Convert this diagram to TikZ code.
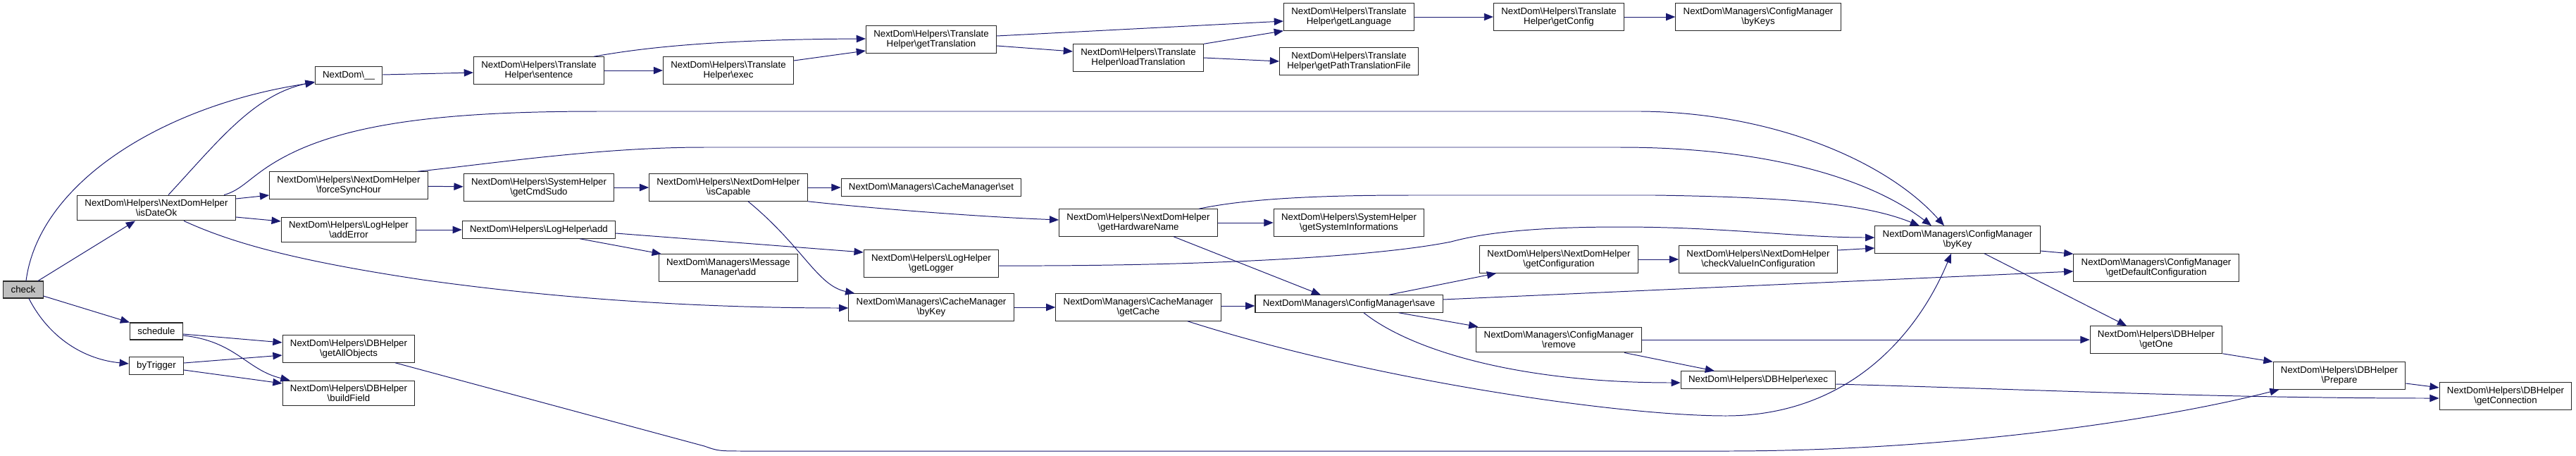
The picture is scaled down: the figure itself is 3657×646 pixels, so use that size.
\documentclass[tikz,border=0pt]{standalone}
\usepackage{fontspec}
\setmainfont{Liberation Sans}
\usepackage{tikz}
\usetikzlibrary{positioning, arrows.meta, calc}
\definecolor{midnight}{HTML}{191970}
\newcommand{\nsep}{\textbackslash}
\newcommand{\fnfont}{\fontsize{9.45}{10}\selectfont}

\begin{document}
\begin{tikzpicture}[
  x=0.025cm, y=-0.025cm,
  fn/.style={draw=black!85, fill=white, line width=0.75pt, font=\fnfont, align=center, inner xsep=0.27cm, inner ysep=0.15cm, minimum height=0.6cm},
  root/.style={fn, fill=gray!50},
  call/.style={draw=midnight, line width=0.7pt, -{Triangle[length=0.33cm, width=0.26cm]}},
]
  \useasboundingbox (0,0) rectangle (3657,646);

  \node[root] (check) at (33,411) {check};
  \node[fn] (isDateOk) at (222,295) {NextDom\nsep Helpers\nsep NextDomHelper\\\nsep isDateOk};
  \node[fn] (schedule) at (222,470) {schedule};
  \node[fn] (byTrigger) at (222,519) {byTrigger};
  \node[fn] (nd) at (495,107) {NextDom\nsep\_\_};
  \node[fn] (forceSyncHour) at (495,263) {NextDom\nsep Helpers\nsep NextDomHelper\\\nsep forceSyncHour};
  \node[fn] (addError) at (495,326) {NextDom\nsep Helpers\nsep LogHelper\\\nsep addError};
  \node[fn] (getAllObjects) at (495,495) {NextDom\nsep Helpers\nsep DBHelper\\\nsep getAllObjects};
  \node[fn] (buildField) at (495,558) {NextDom\nsep Helpers\nsep DBHelper\\\nsep buildField};
  \node[fn] (sentence) at (765,100) {NextDom\nsep Helpers\nsep Translate\\Helper\nsep sentence};
  \node[fn] (getCmdSudo) at (765,266) {NextDom\nsep Helpers\nsep SystemHelper\\\nsep getCmdSudo};
  \node[fn] (logAdd) at (765,326) {NextDom\nsep Helpers\nsep LogHelper\nsep add};
  \node[fn] (thExec) at (1034,100) {NextDom\nsep Helpers\nsep Translate\\Helper\nsep exec};
  \node[fn] (isCapable) at (1034,266) {NextDom\nsep Helpers\nsep NextDomHelper\\\nsep isCapable};
  \node[fn] (msgAdd) at (1034,380) {NextDom\nsep Managers\nsep Message\\Manager\nsep add};
  \node[fn] (getTranslation) at (1322,56) {NextDom\nsep Helpers\nsep Translate\\Helper\nsep getTranslation};
  \node[fn] (cacheSet) at (1322,266) {NextDom\nsep Managers\nsep CacheManager\nsep set};
  \node[fn] (getLogger) at (1322,374) {NextDom\nsep Helpers\nsep LogHelper\\\nsep getLogger};
  \node[fn] (cacheByKey) at (1322,436) {NextDom\nsep Managers\nsep CacheManager\\\nsep byKey};
  \node[fn] (loadTranslation) at (1616,82) {NextDom\nsep Helpers\nsep Translate\\Helper\nsep loadTranslation};
  \node[fn] (getHardwareName) at (1616,316) {NextDom\nsep Helpers\nsep NextDomHelper\\\nsep getHardwareName};
  \node[fn] (getCache) at (1616,436) {NextDom\nsep Managers\nsep CacheManager\\\nsep getCache};
  \node[fn] (getLanguage) at (1915,24) {NextDom\nsep Helpers\nsep Translate\\Helper\nsep getLanguage};
  \node[fn] (getPathTranslationFile) at (1915,87) {NextDom\nsep Helpers\nsep Translate\\Helper\nsep getPathTranslationFile};
  \node[fn] (getSystemInformations) at (1915,316) {NextDom\nsep Helpers\nsep SystemHelper\\\nsep getSystemInformations};
  \node[fn] (save) at (1915,431) {NextDom\nsep Managers\nsep ConfigManager\nsep save};
  \node[fn] (getConfig) at (2213,24) {NextDom\nsep Helpers\nsep Translate\\Helper\nsep getConfig};
  \node[fn] (getConfiguration) at (2213,368) {NextDom\nsep Helpers\nsep NextDomHelper\\\nsep getConfiguration};
  \node[fn] (remove) at (2213,482) {NextDom\nsep Managers\nsep ConfigManager\\\nsep remove};
  \node[fn] (byKeys) at (2496,24) {NextDom\nsep Managers\nsep ConfigManager\\\nsep byKeys};
  \node[fn] (checkValue) at (2496,368) {NextDom\nsep Helpers\nsep NextDomHelper\\\nsep checkValueInConfiguration};
  \node[fn] (dbExec) at (2496,539) {NextDom\nsep Helpers\nsep DBHelper\nsep exec};
  \node[fn] (cfgByKey) at (2779,340) {NextDom\nsep Managers\nsep ConfigManager\\\nsep byKey};
  \node[fn] (getDefaultConfiguration) at (3061,380) {NextDom\nsep Managers\nsep ConfigManager\\\nsep getDefaultConfiguration};
  \node[fn] (getOne) at (3061,482) {NextDom\nsep Helpers\nsep DBHelper\\\nsep getOne};
  \node[fn] (prepare) at (3321,533) {NextDom\nsep Helpers\nsep DBHelper\\\nsep Prepare};
  \node[fn] (getConnection) at (3557,562) {NextDom\nsep Helpers\nsep DBHelper\\\nsep getConnection};

  \draw[call] ($(check.north)+(4,0)$) .. controls (55,260) and (230,150) .. ($(nd.west)+(0,10)$);
  \draw[call] ($(check.north)+(21,0)$) -- ($(isDateOk.south)+(-30,0)$);
  \draw[call] ($(check.east)+(0,9)$) -- (schedule.north west);
  \draw[call] ($(check.south)+(8,0)$) .. controls (70,480) and (120,510) .. ($(byTrigger.west)+(0,-3)$);
  \draw[call] ($(isDateOk.north)+(17,0)$) .. controls (310,200) and (360,135) .. ($(nd.west)+(0,9)$);
  \draw[call] ($(isDateOk.north)+(96,0)$) .. controls (350,268) and (360,240) .. (430,210) .. controls (520,172) and (650,158) .. (850,158) -- (2330,158) .. controls (2520,160) and (2680,230) .. ($(cfgByKey.north)+(-19,0)$);
  \draw[call] ($(isDateOk.east)+(0,-13)$) -- ($(forceSyncHour.west)+(0,14)$);
  \draw[call] ($(isDateOk.east)+(0,13)$) -- ($(addError.west)+(0,-12)$);
  \draw[call] ($(isDateOk.south)+(39,0)$) .. controls (330,345) and (420,370) .. (600,397) .. controls (800,425) and (1000,437) .. ($(cacheByKey.west)+(0,1)$);
  \draw[call] ($(schedule.east)+(0,4)$) -- ($(getAllObjects.west)+(0,-9)$);
  \draw[call] ($(schedule.east)+(0,6)$) .. controls (335,484) and (350,525) .. ($(buildField.north west)+(11,0)$);
  \draw[call] ($(byTrigger.east)+(0,-4)$) -- ($(getAllObjects.west)+(0,9)$);
  \draw[call] ($(byTrigger.east)+(0,6)$) -- ($(buildField.west)+(0,-14)$);
  \draw[call] ($(getAllObjects.south)+(66,0)$) -- (1000,633) .. controls (1020,640) .. (1060,640) -- (2450,640) .. controls (2750,640) and (3050,600) .. ($(prepare.south west)+(9,0)$);
  \draw[call] ($(nd.east)+(0,-1)$) -- ($(sentence.west)+(0,3)$);
  \draw[call] ($(sentence.north)+(78,0)$) .. controls (900,70) and (1000,56) .. ($(getTranslation.west)+(0,-1)$);
  \draw[call] (sentence) -- (thExec);
  \draw[call] ($(thExec.east)+(0,-14)$) -- ($(getTranslation.west)+(0,16)$);
  \draw[call] ($(getTranslation.east)+(0,-5)$) -- ($(getLanguage.west)+(0,6)$);
  \draw[call] ($(getTranslation.east)+(0,9)$) -- ($(loadTranslation.west)+(0,-9)$);
  \draw[call] (loadTranslation.north east) -- (getLanguage.south west);
  \draw[call] (loadTranslation.east) -- (getPathTranslationFile.west);
  \draw[call] (getLanguage) -- (getConfig);
  \draw[call] (getConfig) -- (byKeys);
  \draw[call] (forceSyncHour) -- (getCmdSudo);
  \draw[call] ($(forceSyncHour.north east)+(-15,0)$) .. controls (700,232) and (850,209) .. (1000,209) -- (2300,209) .. controls (2500,209) and (2650,250) .. ($(cfgByKey.north)+(-37,0)$);
  \draw[call] (getCmdSudo) -- (isCapable);
  \draw[call] (isCapable) -- (cacheSet);
  \draw[call] (isCapable.south east) .. controls (1250,297) and (1400,308) .. ($(getHardwareName.west)+(0,-4)$);
  \draw[call] ($(isCapable.south)+(28,0)$) .. controls (1140,350) and (1160,405) .. ($(cacheByKey.north west)+(9,0)$);
  \draw[call] (addError) -- (logAdd);
  \draw[call] ($(logAdd.south)+(58,0)$) -- ($(msgAdd.north west)+(4,0)$);
  \draw[call] ($(logAdd.east)+(0,5)$) -- ($(getLogger.west)+(0,-16)$);
  \draw[call] ($(getLogger.east)+(0,3)$) .. controls (1700,378) and (1950,365) .. (2060,343) .. controls (2090,335) and (2150,322) .. (2300,322) .. controls (2450,322) and (2550,337) .. ($(cfgByKey.west)+(0,-3)$);
  \draw[call] (cacheByKey) -- (getCache);
  \draw[call] ($(getCache.east)+(0,-2)$) -- ($(save.west)+(0,3)$);
  \draw[call] ($(getCache.south)+(70,0)$) .. controls (1950,540) and (2300,590) .. (2450,590) .. controls (2620,590) and (2720,480) .. ($(cfgByKey.south)+(-9,0)$);
  \draw[call] (getHardwareName) -- (getSystemInformations);
  \draw[call] ($(getHardwareName.south)+(50,0)$) -- ($(save.north)+(-40,0)$);
  \draw[call] ($(getHardwareName.north)+(86,0)$) .. controls (1760,284) and (1850,277) .. (2000,277) -- (2350,277) .. controls (2550,280) and (2650,290) .. ($(cfgByKey.north)+(-54,0)$);
  \draw[call] ($(save.north)+(57,0)$) -- ($(getConfiguration.south west)+(24,0)$);
  \draw[call] ($(save.east)+(0,-6)$) -- ($(getDefaultConfiguration.west)+(0,5)$);
  \draw[call] ($(save.south east)+(-63,0)$) -- ($(remove.north west)+(3,0)$);
  \draw[call] ($(save.south)+(21,0)$) .. controls (2000,495) and (2150,543) .. ($(dbExec.west)+(0,4)$);
  \draw[call] (getConfiguration) -- (checkValue);
  \draw[call] ($(checkValue.east)+(0,-13)$) -- ($(cfgByKey.west)+(0,12)$);
  \draw[call] (remove) -- (getOne);
  \draw[call] ($(remove.south)+(93,0)$) -- ($(dbExec.north)+(-62,0)$);
  \draw[call] ($(dbExec.east)+(0,6)$) .. controls (2900,553) and (3150,565) .. ($(getConnection.west)+(0,3)$);
  \draw[call] ($(cfgByKey.east)+(0,16)$) -- (getDefaultConfiguration.north west);
  \draw[call] ($(cfgByKey.south)+(38,0)$) -- ($(getOne.north)+(-42,0)$);
  \draw[call] (getOne.south east) -- (prepare.north west);
  \draw[call] ($(prepare.east)+(0,11)$) -- ($(getConnection.west)+(0,-12)$);
\end{tikzpicture}
\end{document}
